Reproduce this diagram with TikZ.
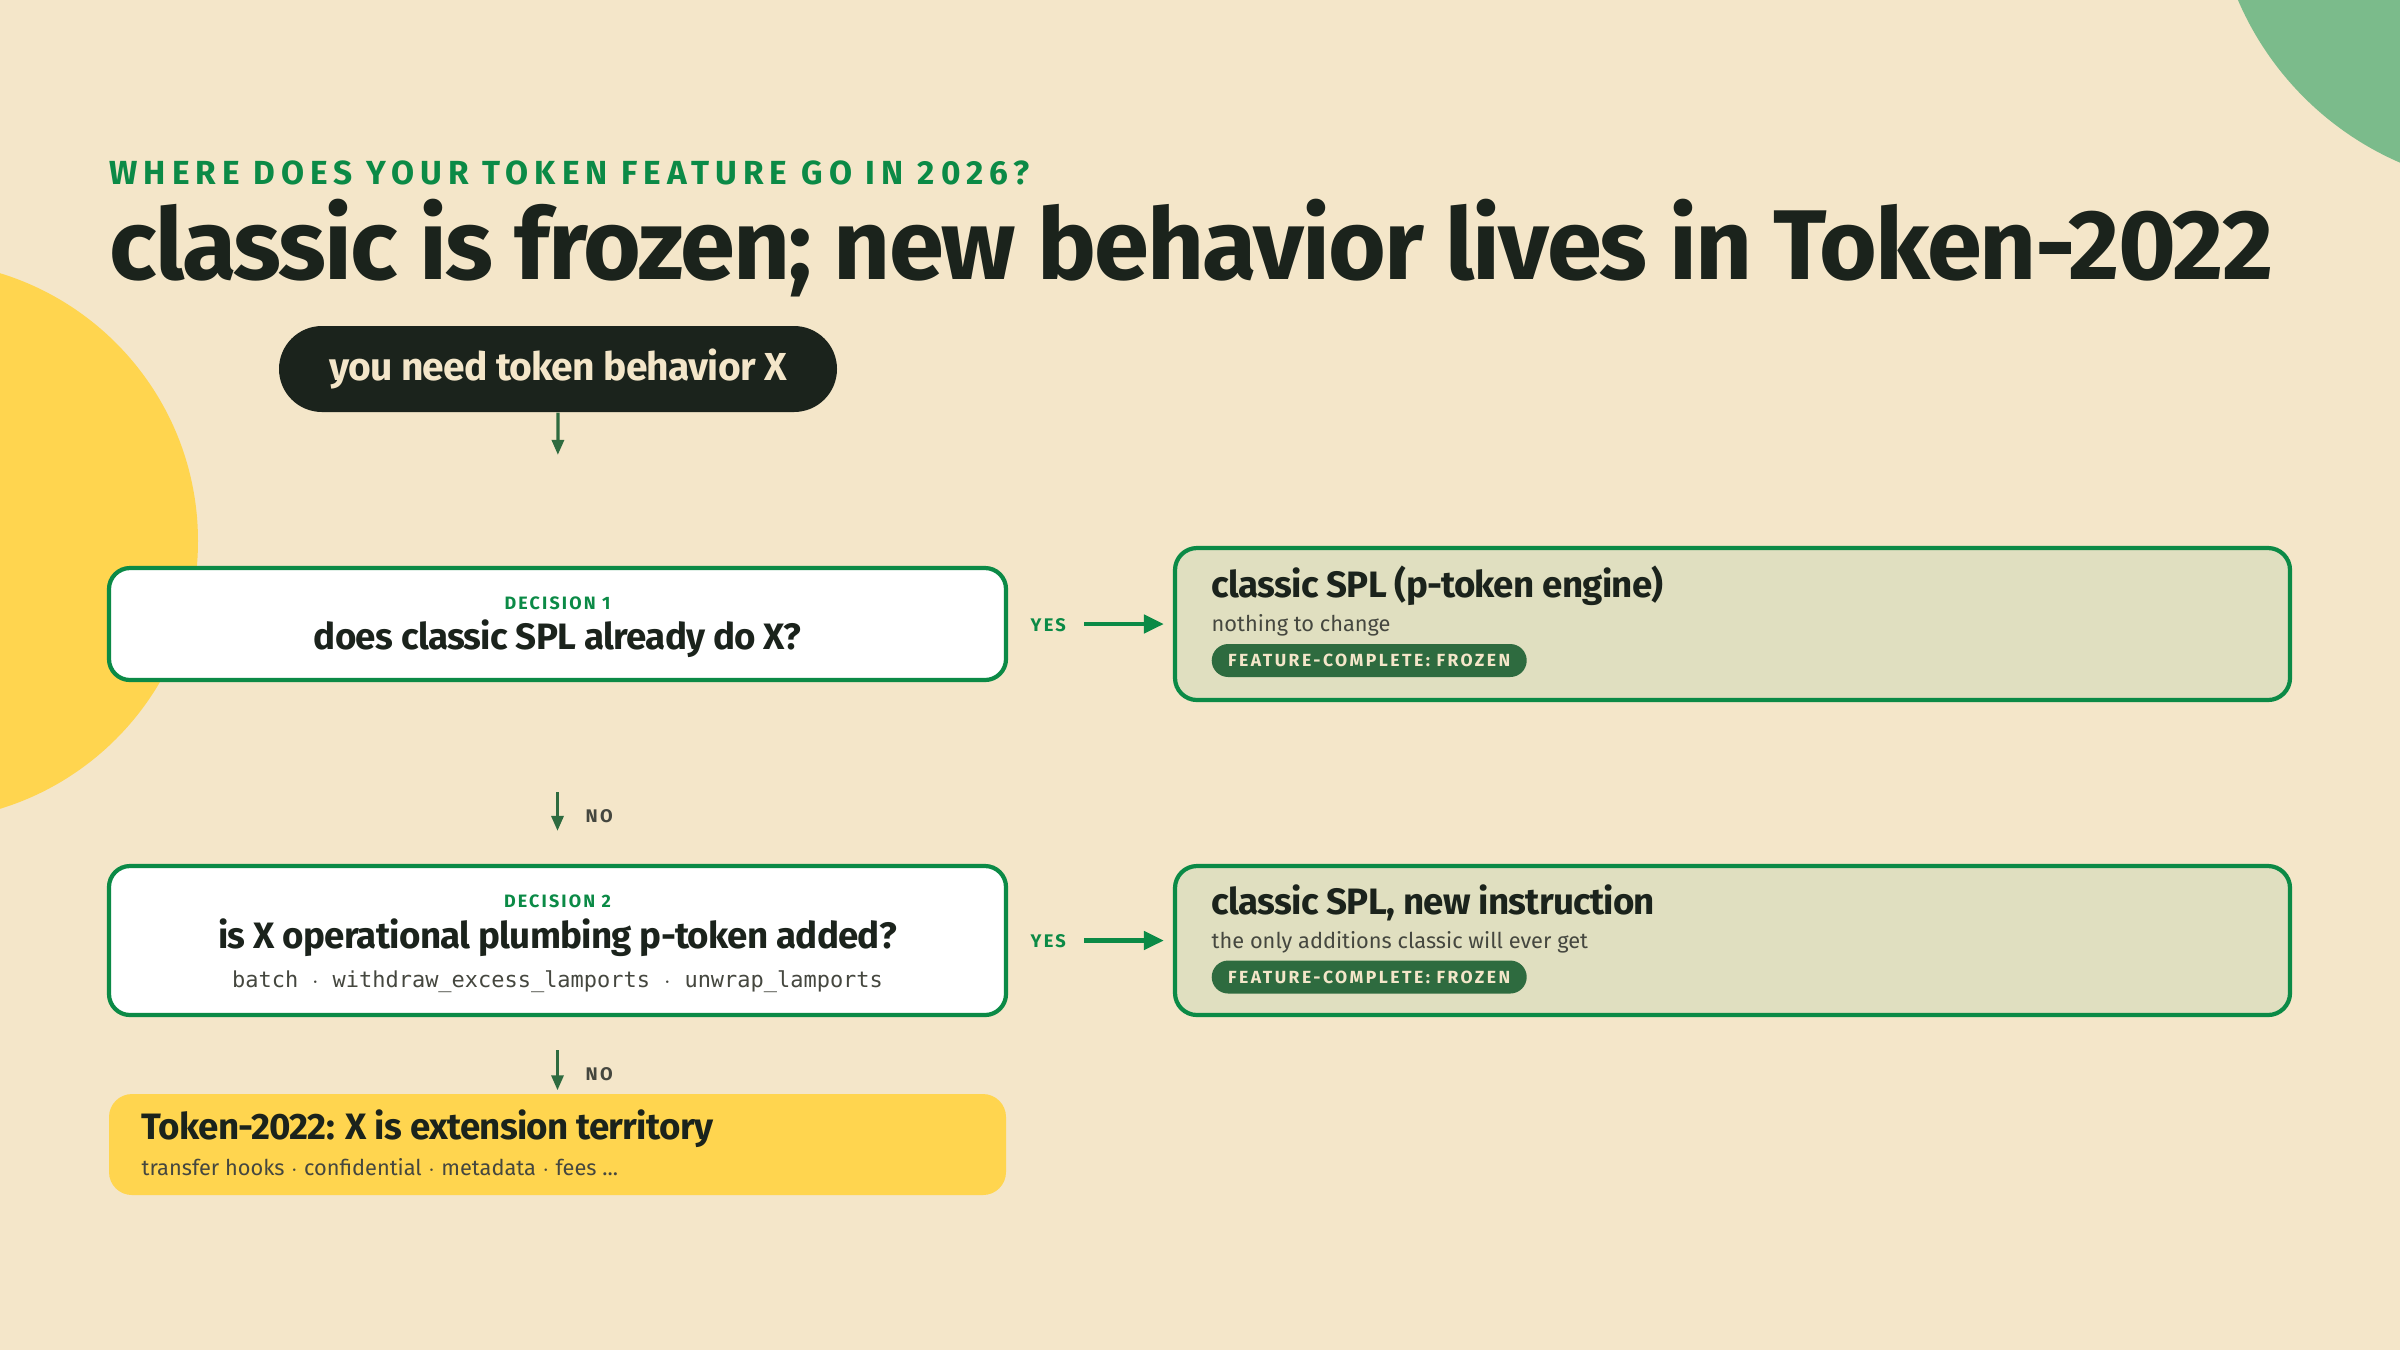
\documentclass[tikz,border=0pt]{standalone}
\usepackage{fontspec}
\setmainfont{Fira Sans}
\newfontfamily\headfont{Fira Sans}[LetterSpace=-2]
\newfontfamily\capsfont{Fira Sans}[LetterSpace=12]
\newfontfamily\codefont{DejaVu Sans Mono}
\usepackage{xcolor}
\usetikzlibrary{shapes.misc,arrows.meta,positioning}

\definecolor{paper}{HTML}{F4E6C9}
\definecolor{ink}{HTML}{1B231C}
\definecolor{leaf}{HTML}{0B8A46}
\definecolor{moss}{HTML}{2E6B3F}
\definecolor{sage}{HTML}{E0DFC0}
\definecolor{sun}{HTML}{FFD54F}
\definecolor{mint}{HTML}{7BBB8B}
\definecolor{slate}{HTML}{45473F}

\begin{document}
\begin{tikzpicture}
[pill/.style={rounded rectangle,fill=ink,text=paper,inner sep=0pt,minimum width=5.58cm,minimum height=0.86cm,
   font=\headfont\bfseries\fontsize{11.1}{13}\selectfont},
 decbox/.style={rectangle,draw=leaf,fill=white,line width=1.2pt,rounded corners=0.21cm,inner sep=0pt,minimum width=8.97cm},
 resbox/.style={rectangle,draw=leaf,fill=sage,line width=1.2pt,rounded corners=0.22cm,inner sep=0pt,minimum width=11.15cm},
 endbox/.style={rectangle,fill=sun,rounded corners=0.23cm,inner sep=0pt,minimum width=8.97cm,minimum height=1.01cm},
 badge/.style={rounded rectangle,fill=moss,text=paper,inner sep=0pt,minimum width=3.15cm,minimum height=0.33cm,
   font=\capsfont\addfontfeatures{LetterSpace=14}\bfseries\fontsize{5}{6}\selectfont},
 tag/.style={inner sep=0pt,text=leaf,font=\capsfont\bfseries\fontsize{5.1}{6}\selectfont},
 bigq/.style={inner sep=0pt,text=ink,font=\headfont\bfseries\fontsize{10.45}{12}\selectfont},
 small/.style={inner sep=0pt,text=slate,font=\fontsize{6.2}{8}\selectfont},
 code/.style={inner sep=0pt,text=slate,font=\codefont\fontsize{6.25}{8}\selectfont},
 yes/.style={inner sep=0pt,text=leaf,font=\capsfont\bfseries\fontsize{5.2}{6}\selectfont},
 no/.style={inner sep=0pt,text=slate,font=\capsfont\bfseries\fontsize{5.2}{6}\selectfont},
 down/.style={-{Triangle[length=0.15cm,width=0.12cm]},draw=moss,line width=0.9pt},
 across/.style={-{Triangle[length=0.2cm,width=0.18cm]},draw=leaf,line width=1.3pt}]
% background
\fill[paper] (0,0) rectangle (24,-13.5);
\begin{scope}
\clip (0,0) rectangle (24,-13.5);
\fill[sun]  (-0.82,-5.41) circle (2.80);
\fill[mint] (25.23,1.22) circle (3.10);
\end{scope}
\useasboundingbox (0,0) rectangle (24,-13.5);
% heading
\node[anchor=base west,inner sep=0pt,text=leaf,font=\capsfont\addfontfeatures{LetterSpace=18}\bfseries\fontsize{9.5}{11}\selectfont] (kicker)
     at (1.09,-1.84) {WHERE DOES YOUR TOKEN FEATURE GO IN 2026?};
\node[anchor=base west,inner sep=0pt,text=ink,font=\headfont\bfseries\fontsize{28.2}{32}\selectfont] (headline)
     at (1.09,-2.79) {classic is frozen; new behavior lives in Token-2022};
%
\node[pill] (start) at (5.58,-3.69) {you need token behavior X};
% decisions
\node[decbox,minimum height=1.12cm] (dec1) at (5.575,-6.24) {};
\node[tag]  (dec1tag) at (5.575,-6.03) {DECISION 1};
\node[bigq,anchor=mid] (dec1q) at (5.575,-6.40) {does classic SPL already do X?};
\node[decbox,minimum height=1.49cm] (dec2) at (5.575,-9.405) {};
\node[tag]  (dec2tag) at (5.575,-9.01) {DECISION 2};
\node[bigq,anchor=mid] (dec2q) at (5.575,-9.39) {is X operational plumbing p-token added?};
\node[code,anchor=mid] (dec2ops) at (5.575,-9.78) {batch $\cdot$ withdraw\_excess\_lamports $\cdot$ unwrap\_lamports};
% outcomes
\node[resbox,minimum height=1.52cm] (res1) at (17.325,-6.24) {};
\node[bigq,anchor=mid west]  (res1title) at (12.11,-5.88) {classic SPL (p-token engine)};
\node[small,anchor=mid west] (res1note)  at (12.11,-6.22) {nothing to change};
\node[badge,anchor=west]     (res1badge) at (12.11,-6.605) {FEATURE-COMPLETE: FROZEN};
\node[resbox,minimum height=1.49cm] (res2) at (17.325,-9.405) {};
\node[bigq,anchor=mid west]  (res2title) at (12.11,-9.05) {classic SPL, new instruction};
\node[small,anchor=mid west] (res2note)  at (12.11,-9.39) {the only additions classic will ever get};
\node[badge,anchor=west]     (res2badge) at (12.11,-9.77) {FEATURE-COMPLETE: FROZEN};
\node[endbox] (t22) at (5.575,-11.445) {};
\node[bigq,anchor=mid west]  (t22title) at (1.41,-11.30) {Token-2022: X is extension territory};
\node[small,anchor=mid west] (t22note)  at (1.41,-11.66) {transfer hooks $\cdot$ confidential $\cdot$ metadata $\cdot$ fees ...};
% connectors
\draw[down,shorten >=1.11cm] (start.south) -- (dec1.north);
\draw[down,shorten <=1.10cm,shorten >=0.33cm] (dec1.south) -- (dec2.north);
\draw[down,shorten <=0.33cm,shorten >=0.03cm] (dec2.south) -- (t22.north);
\node[no,anchor=mid west] (no1) at (5.85,-8.13) {NO};
\node[no,anchor=mid west] (no2) at (5.85,-10.71) {NO};
\draw[across,shorten <=0.76cm,shorten >=0.09cm] (dec1.east) -- (res1.west);
\draw[across,shorten <=0.76cm,shorten >=0.09cm] (dec2.east) -- (res2.west);
\node[yes,anchor=mid west] (yes1) at (10.30,-6.22) {YES};
\node[yes,anchor=mid west] (yes2) at (10.30,-9.38) {YES};
\end{tikzpicture}
\end{document}
